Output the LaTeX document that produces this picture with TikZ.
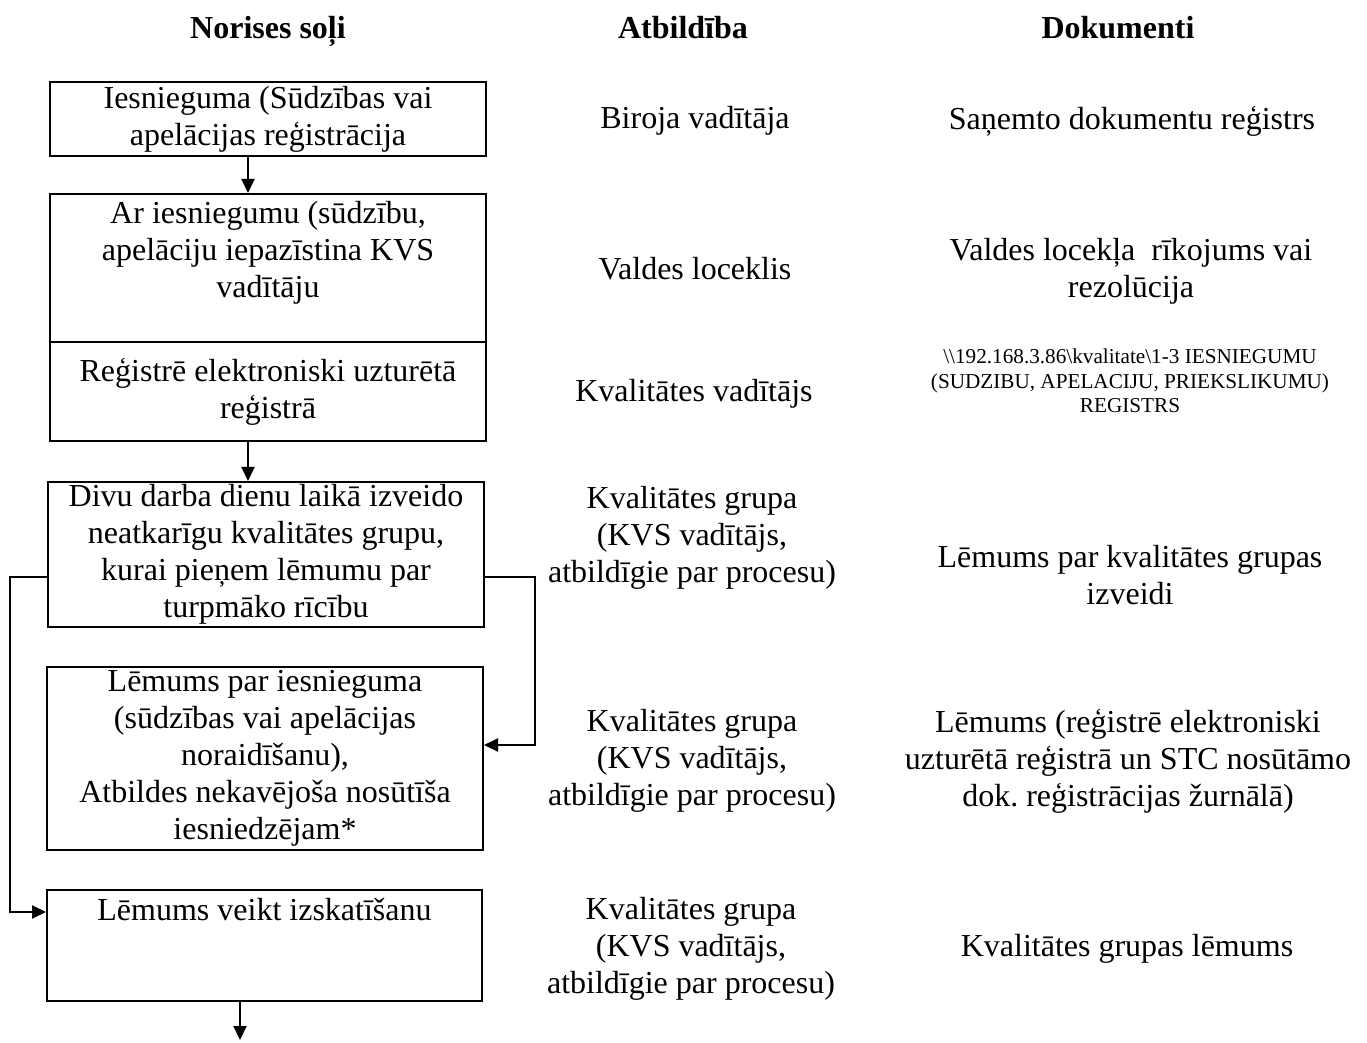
\documentclass[tikz,border=0pt]{standalone}
\usepackage{fontspec}
\setmainfont{Liberation Serif}
\frenchspacing
\usetikzlibrary{arrows.meta}
\tikzset{
  box/.style={draw,line width=1pt,minimum width=218pt,inner sep=0pt},
  txt/.style={align=center,font=\fontsize{16}{18.5}\selectfont,inner sep=0pt},
  small/.style={align=center,font=\fontsize{10.6}{12.3}\selectfont,inner sep=0pt},
  head/.style={font=\fontsize{16}{18}\selectfont\bfseries,inner sep=0pt,anchor=base},
  arr/.style={line width=1pt,-{Triangle[length=7pt,width=6.5pt]}}
}
\begin{document}
\begin{tikzpicture}[x=0.5pt,y=-0.5pt]
        \useasboundingbox (0,0) rectangle (1367,1043);
        % headings
        \node[head] (hsteps) at (268,39) {Norises soļi};
        \node[head] (hresp) at (683,39) {Atbildība};
        \node[head] (hdocs) at (1118,39) {Dokumenti};
        % steps
        \node[box,minimum height=37pt,txt] (s1) at (268,119) {Iesnieguma (Sūdzības vai\\apelācijas reģistrācija};
        \node[box,minimum height=74pt] (s2) at (268,268) {};
        \node[txt,anchor=north] (s2t) at (268,201) {Ar iesniegumu (sūdzību,\\apelāciju iepazīstina KVS\\vadītāju};
        \node[box,minimum height=49.5pt,txt] (s3) at (268,391.5) {Reģistrē elektroniski uzturētā\\reģistrā};
        \node[box,minimum height=72.5pt,txt] (s4) at (266,554.5) {Divu darba dienu laikā izveido\\neatkarīgu kvalitātes grupu,\\kurai pieņem lēmumu par\\turpmāko rīcību};
        \node[box,minimum height=91.5pt,txt] (s5) at (265,758.5) {Lēmums par iesnieguma\\(sūdzības vai apelācijas\\noraidīšanu),\\Atbildes nekavējoša nosūtīša\\iesniedzējam*};
        \node[box,minimum width=217.5pt,minimum height=55.5pt] (s6) at (264.5,945.5) {};
        \node[txt,anchor=north] (s6t) at (264.5,898) {Lēmums veikt izskatīšanu};
        % responsibility
        \node[txt] (r1) at (695,121) {Biroja vadītāja};
        \node[txt] (r2) at (695,269) {Valdes loceklis};
        \node[txt] (r3) at (694,394) {Kvalitātes vadītājs};
        \node[txt] (r4) at (692,538) {Kvalitātes grupa\\(KVS vadītājs,\\atbildīgie par procesu)};
        \node[txt] (r5) at (692,761) {Kvalitātes grupa\\(KVS vadītājs,\\atbildīgie par procesu)};
        \node[txt] (r6) at (691,949) {Kvalitātes grupa\\(KVS vadītājs,\\atbildīgie par procesu)};
        % documents
        \node[txt] (d1) at (1132,121) {Saņemto dokumentu reģistrs};
        \node[txt] (d2) at (1131,271) {Valdes locekļa\ \ rīkojums vai\\rezolūcija};
        \node[small] (d3) at (1130,381) {\textbackslash\textbackslash 192.168.3.86\textbackslash kvalitate\textbackslash 1-3 IESNIEGUMU\\(SUDZIBU, APELACIJU, PRIEKSLIKUMU)\\REGISTRS};
        \node[txt] (d4) at (1130,575) {Lēmums par kvalitātes grupas\\izveidi};
        \node[txt] (d5) at (1128,761) {Lēmums (reģistrē elektroniski\\uzturētā reģistrā un STC nosūtāmo\\dok. reģistrācijas žurnālā)};
        \node[txt] (d6) at (1127,949) {Kvalitātes grupas lēmums};
        % connectors
        \coordinate (ca) at (248,0);
        \coordinate (cb) at (240,1040);
        \coordinate (rt) at (535,577);
        \coordinate (lt) at (10,577);
        \coordinate (y5) at (0,745);
        \coordinate (y6) at (0,912);
        \draw[arr](s1.south -| ca)--(s2.north -| ca);
        \draw[arr](s3.south -| ca)--(s4.north -| ca);
        \draw[arr](s4.east |- rt)--(rt)|-(s5.east |- y5);
        \draw[arr](s4.west |- lt)--(lt)|-(s6.west |- y6);
        \draw[arr](s6.south -| cb)--(cb);
    \end{tikzpicture}
\end{document}
